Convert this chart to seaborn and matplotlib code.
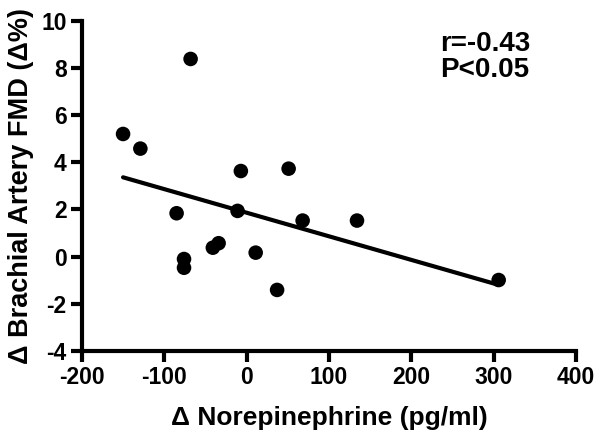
import matplotlib
matplotlib.use("Agg")
import matplotlib.pyplot as plt
import seaborn as sns
import numpy as np
import pandas as pd

# Data
norepinephrine = [-150, -129, -68, -7, -85, -11, -76, -76, -41, -34, 11, 37, 68, 134, 306, 51]
fmd = [5.2, 4.58, 8.38, 3.63, 1.84, 1.94, -0.1, -0.47, 0.38, 0.57, 0.17, -1.41, 1.53, 1.53, -0.99, 3.73]
xticks = [-200, -100, 0, 100, 200, 300, 400]
yticks = [-4, -2, 0, 2, 4, 6, 8, 10]
annotation = "r=-0.43\nP<0.05"

df = pd.DataFrame({"x": norepinephrine, "y": fmd})

sns.set_style("ticks")
plt.rcParams["font.family"] = ["Liberation Sans", "DejaVu Sans"]
plt.rcParams["font.weight"] = "bold"
plt.rcParams["text.color"] = "black"
plt.rcParams["axes.labelcolor"] = "black"
plt.rcParams["xtick.color"] = "black"
plt.rcParams["ytick.color"] = "black"

fig = plt.figure(figsize=(6.02, 4.41), dpi=100)
ax = fig.add_axes([0.136, 0.204, 0.821, 0.749])

sns.regplot(data=df, x="x", y="y", ax=ax, ci=None, truncate=True,
            scatter_kws=dict(s=110, color="black", edgecolor="none", alpha=1),
            line_kws=dict(color="black", lw=3))

ax.set_xlim(-200, 400)
ax.set_ylim(-4, 10)
ax.set_xticks(xticks)
ax.set_yticks(yticks)
ax.set_xticklabels([str(t) for t in xticks], fontsize=16.5, fontweight="bold", color="black")
ax.set_yticklabels([str(t) for t in yticks], fontsize=16.5, fontweight="bold", color="black")
ax.set_xlabel("Δ Norepinephrine (pg/ml)", fontsize=19, fontweight="bold", labelpad=12, color="black")
ax.set_ylabel("Δ Brachial Artery FMD (Δ%)", fontsize=19.5, fontweight="bold", labelpad=5, color="black")

for s in ["top", "right"]:
    ax.spines[s].set_visible(False)
for s in ["left", "bottom"]:
    ax.spines[s].set_linewidth(3)
    ax.spines[s].set_color("black")
ax.tick_params(axis="both", width=3, length=8, color="black", pad=3)

ax.text(0.725, 0.968, annotation, transform=ax.transAxes, fontsize=20,
        fontweight="bold", va="top", ha="left", linespacing=1.0, color="black")

fig.savefig("out.png", dpi=100)
